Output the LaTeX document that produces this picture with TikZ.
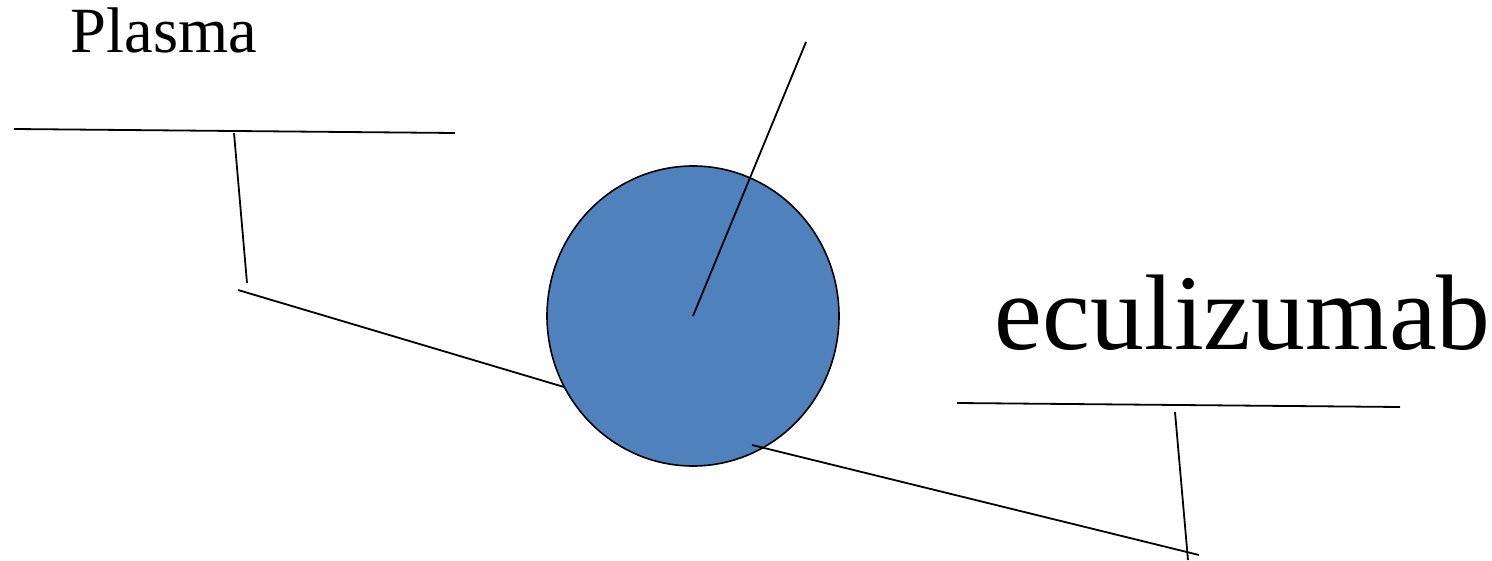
\documentclass[tikz,border=0pt]{standalone}
\usepackage{fontspec}
\setmainfont{Liberation Serif}
\usetikzlibrary{shapes.geometric}
\definecolor{cellblue}{HTML}{4F81BD}

\begin{document}
\begin{tikzpicture}[x=1pt,y=-1pt,line width=1.8pt,
  cellshape/.style={ellipse,draw=black,fill=cellblue,line width=1.6pt,
    minimum width=292pt,minimum height=300pt,inner sep=0pt},
  lbl/.style={inner sep=0pt,anchor=base west}]
\useasboundingbox (0,0) rectangle (1492,561);
\node[lbl,font=\fontsize{64.5}{72}\selectfont] (plasma) at (70,53) {Plasma};
\node[lbl,font=\fontsize{107.5}{124}\selectfont] (ecu) at (994,350) {eculizumab};
\node[cellshape] (cell) at (693,316) {};
% membrane on the left
\coordinate (ma) at (14,129);
\coordinate (mb) at (455,133);
\coordinate (mc) at (234,133);
\coordinate (md) at (247,283);
\coordinate (me) at (238,290);
\coordinate (mf) at (564,387);
\draw (ma) -- (mb);
\draw (mc) -- (md);
\draw (me) -- (mf);
% pointer into the cell
\coordinate (tip) at (806,42);
\draw (tip) -- (cell.center);
% membrane on the right
\coordinate (na) at (957,403);
\coordinate (nb) at (1400,407);
\coordinate (nc) at (1175,412);
\coordinate (nd) at (1188,560);
\coordinate (ne) at (752,445);
\coordinate (nf) at (1199,555);
\draw (na) -- (nb);
\draw (nc) -- (nd);
\draw (ne) -- (nf);
\end{tikzpicture}
\end{document}
